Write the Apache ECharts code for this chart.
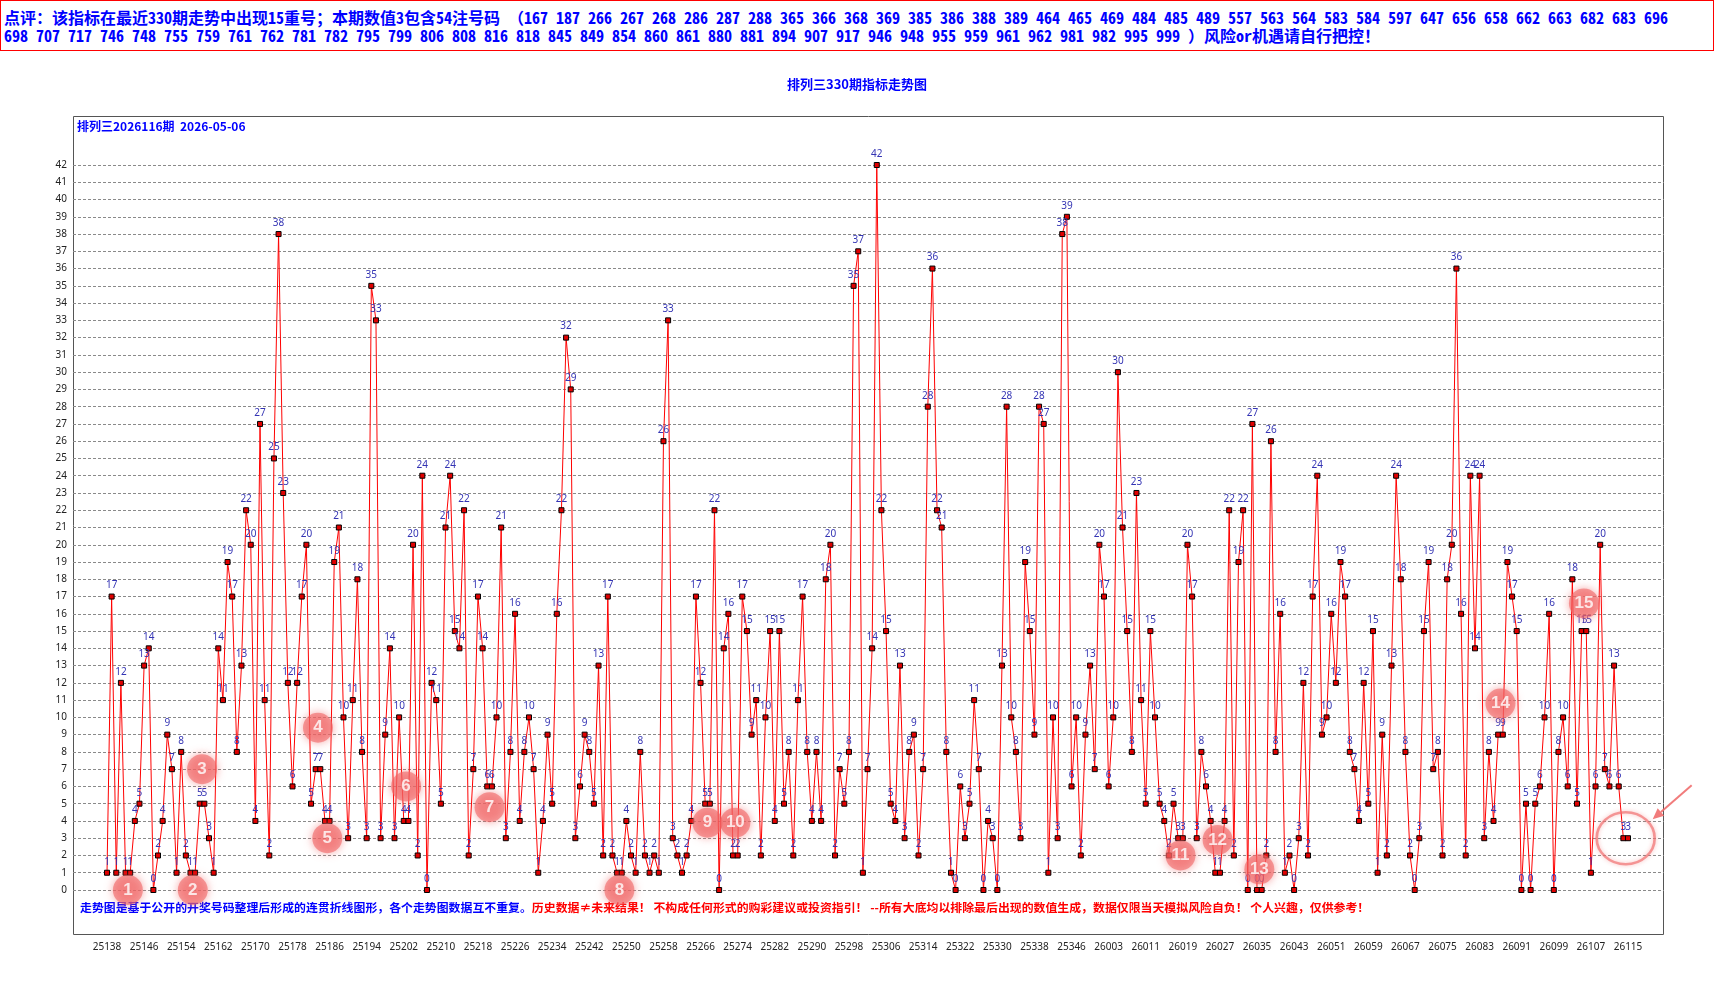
<!DOCTYPE html>
<html lang="zh">
<head>
    <meta charset="UTF-8">
    <title>排列三330期指标走势图</title>
    <script src="https://cdn.jsdelivr.net/npm/echarts@6/dist/echarts.min.js"></script>
    <style>
        html, body { margin: 0; padding: 0; background: #fff; }
        #main { position: absolute; left: 0; top: 0; width: 1714px; height: 981px; }
        #tip {
            position: absolute; left: 0; top: 0; width: 1714px; height: 51px;
            box-sizing: border-box; border: 1px solid #f00; padding: 8px 0 0 3px;
            font: bold 16px/17.5px "Noto Sans Mono CJK SC", "Noto Sans CJK SC", sans-serif;
            color: #00f; white-space: nowrap; overflow: hidden; background: #fff; z-index: 2;
        }
    </style>
</head>
<body>
<div id="main"></div>
<div id="tip">
    <div>点评：该指标在最近330期走势中出现15重号；本期数值3包含54注号码 （167 187 266 267 268 286 287 288 365 366 368 369 385 386 388 389 464 465 469 484 485 489 557 563 564 583 584 597 647 656 658 662 663 682 683 696</div>
    <div>698 707 717 746 748 755 759 761 762 781 782 795 799 806 808 816 818 845 849 854 860 861 880 881 894 907 917 946 948 955 959 961 962 981 982 995 999 ）风险or机遇请自行把控！</div>
</div>
<script type="text/javascript">
// 期号：25138-25351，26001-26115
var periods = [];
for (var p = 25138; p <= 25351; p++) periods.push(String(p));
for (var q = 26001; q <= 26115; q++) periods.push(String(q));

// 每期指标值
var values = [
    1, 17, 1, 12, 1, 1, 4, 5, 13, 14, 0, 2, 4, 9, 7, 1, 8, 2, 1, 1, 5, 5, 3, 1, 14, 11, 19, 17, 8,
    13, 22, 20, 4, 27, 11, 2, 25, 38, 23, 12, 6, 12, 17, 20, 5, 7, 7, 4, 4, 19, 21, 10, 3, 11, 18, 8, 3,
    35, 33, 3, 9, 14, 3, 10, 4, 4, 20, 2, 24, 0, 12, 11, 5, 21, 24, 15, 14, 22, 2, 7, 17, 14, 6, 6,
    10, 21, 3, 8, 16, 4, 8, 10, 7, 1, 4, 9, 5, 16, 22, 32, 29, 3, 6, 9, 8, 5, 13, 2, 17, 2, 1, 1,
    4, 2, 1, 8, 2, 1, 2, 1, 26, 33, 3, 2, 1, 2, 4, 17, 12, 5, 5, 22, 0, 14, 16, 2, 2, 17, 15,
    9, 11, 2, 10, 15, 4, 15, 5, 8, 2, 11, 17, 8, 4, 8, 4, 18, 20, 2, 7, 5, 8, 35, 37, 1, 7, 14, 42,
    22, 15, 5, 4, 13, 3, 8, 9, 2, 7, 28, 36, 22, 21, 8, 1, 0, 6, 3, 5, 11, 7, 0, 4, 3, 0, 13, 28,
    10, 8, 3, 19, 15, 9, 28, 27, 1, 10, 3, 38, 39, 6, 10, 2, 9, 13, 7, 20, 17, 6, 10, 30, 21, 15, 8,
    23, 11, 5, 15, 10, 5, 4, 2, 5, 3, 3, 20, 17, 3, 8, 6, 4, 1, 1, 4, 22, 2, 19, 22, 0, 27, 0, 0,
    2, 26, 8, 16, 1, 2, 0, 3, 12, 2, 17, 24, 9, 10, 16, 12, 19, 17, 8, 7, 4, 12, 5, 15, 1, 9, 2,
    13, 24, 18, 8, 2, 0, 3, 15, 19, 7, 8, 2, 18, 20, 36, 16, 2, 24, 14, 24, 3, 8, 4, 9, 9, 19, 17, 15,
    0, 5, 0, 5, 6, 10, 16, 0, 8, 10, 6, 18, 5, 15, 15, 1, 6, 20, 7, 6, 13, 6, 3, 3
];

// 重号圆标相对数值的上下偏移（仅位置用）
var badgeLift = [-1, -1, 2, 2.4, -1, 2, -1.2, -1, -1.1, 1.9, -1, 1.9, 1.2, 1.8, 1.6];

var noteBlue = '走势图是基于公开的开奖号码整理后形成的连贯折线图形，各个走势图数据互不重复。';
var noteRed = '历史数据≠未来结果！ 不构成任何形式的购彩建议或投资指引！ --所有大底均以排除最后出现的数值生成，数据仅限当天模拟风险自负！ 个人兴趣，仅供参考！';

// 找出连续重号
var last = values.length - 1;
var badges = [], current = [];
var n = 0;
for (var i = 1; i < values.length; i++) {
    if (values[i] !== values[i - 1]) continue;
    if (i === last) {
        current.push([i - 0.5, values[i]]);
    } else {
        badges.push({ value: [i - 0.5, values[i] + badgeLift[n]], no: n + 1 });
        n++;
    }
}

var chart = echarts.init(document.getElementById('main'));
var cjk = '"Noto Sans CJK SC", sans-serif';

var option = {
    animation: false,
    title: {
        text: '排列三330期指标走势图',
        left: 'center',
        top: 73,
        textStyle: { color: '#00f', fontSize: 13, fontWeight: 'bold', fontFamily: cjk }
    },
    grid: [
        { left: 73, right: 50, top: 165, bottom: 91 },
        { left: 107, right: 86, top: 165, bottom: 91 }
    ],
    xAxis: [
        { gridIndex: 0, type: 'value', min: 0, max: 1, show: false },
        {
            gridIndex: 1, type: 'value', min: 0, max: 328, interval: 8,
            axisLine: { show: false }, axisTick: { show: false }, splitLine: { show: false },
            axisLabel: {
                margin: 52, fontSize: 10, color: '#222', fontFamily: 'Noto Sans',
                showMinLabel: true, showMaxLabel: true,
                formatter: function (v) { return periods[v] || ''; }
            }
        }
    ],
    yAxis: [
        {
            gridIndex: 0, type: 'value', min: 0, max: 42, interval: 1,
            axisLine: { show: false }, axisTick: { show: false },
            axisLabel: { fontSize: 10, color: '#222', margin: 6, fontFamily: 'Noto Sans' },
            splitLine: { lineStyle: { color: '#8a8a8a', type: [3, 2], width: 1 } }
        },
        { gridIndex: 1, type: 'value', min: 0, max: 42, show: false }
    ],
    series: [
        {
            name: '指标',
            type: 'line',
            xAxisIndex: 1, yAxisIndex: 1,
            clip: false,
            data: values.map(function (v, k) { return [k, v]; }),
            symbol: 'rect',
            symbolSize: 5,
            lineStyle: { color: '#ff0000', width: 1 },
            itemStyle: { color: '#e00000', borderColor: '#000', borderWidth: 1 },
            label: {
                show: true, position: 'top', distance: 3,
                color: '#3434b4', fontSize: 10, fontFamily: 'Noto Sans',
                formatter: function (pr) { return pr.value[1]; }
            },
            emphasis: { disabled: true },
            z: 3
        },
        {
            name: '重号',
            type: 'scatter',
            xAxisIndex: 1, yAxisIndex: 1,
            data: badges,
            symbolSize: 30,
            itemStyle: {
                color: 'rgba(240,100,100,0.75)',
                shadowBlur: 8, shadowColor: 'rgba(240,95,95,0.9)'
            },
            label: {
                show: true, position: 'inside',
                color: '#fff', fontSize: 17, fontWeight: 'bold', fontFamily: 'Liberation Sans',
                formatter: function (pr) { return pr.data.no; }
            },
            emphasis: { disabled: true },
            z: 5
        },
        {
            name: '本期',
            type: 'scatter',
            xAxisIndex: 1, yAxisIndex: 1,
            data: current,
            symbolSize: [58, 52],
            itemStyle: {
                color: 'rgba(0,0,0,0)',
                borderColor: 'rgba(240,110,110,0.85)', borderWidth: 2.5,
                shadowBlur: 4, shadowColor: 'rgba(240,100,100,0.6)'
            },
            emphasis: { disabled: true },
            z: 5
        }
    ],
    graphic: [
        {
            id: 'frame', type: 'rect', z: 0, silent: true,
            shape: { x: 73.5, y: 116.5, width: 1590, height: 818 },
            style: { fill: 'none', stroke: '#555', lineWidth: 1 }
        },
        {
            id: 'issue', type: 'text', left: 77, top: 120, silent: true,
            style: { text: '排列三2026116期  2026-05-06', fill: '#00f', font: 'bold 12px ' + cjk }
        },
        {
            id: 'note', type: 'text', left: 80, top: 902, silent: true,
            style: {
                text: '{b|' + noteBlue + '}{r|' + noteRed + '}',
                font: 'bold 11.9px ' + cjk,
                rich: {
                    b: { fill: '#00f', font: 'bold 11.9px ' + cjk },
                    r: { fill: '#f00', font: 'bold 11.9px ' + cjk }
                }
            }
        }
    ]
};
chart.setOption(option);

// 指向本期重号的箭头
if (current.length) {
    var c = chart.convertToPixel({ xAxisIndex: 1, yAxisIndex: 1 }, current[0]);
    var sx = c[0] + 66, sy = c[1] - 53, tx = c[0] + 27, ty = c[1] - 19;
    var dx = tx - sx, dy = ty - sy, len = Math.sqrt(dx * dx + dy * dy);
    var ux = dx / len, uy = dy / len;
    var bx = tx - ux * 11, by = ty - uy * 11;
    chart.setOption({
        graphic: [
            {
                id: 'arrowLine', type: 'line', z: 6, silent: true,
                shape: { x1: sx, y1: sy, x2: bx, y2: by },
                style: { stroke: 'rgba(240,110,110,0.9)', lineWidth: 2 }
            },
            {
                id: 'arrowHead', type: 'polygon', z: 6, silent: true,
                shape: { points: [[tx, ty], [bx - uy * 5, by + ux * 5], [bx + uy * 5, by - ux * 5]] },
                style: { fill: 'rgba(240,110,110,0.9)' }
            }
        ]
    });
}
</script>
</body>
</html>
